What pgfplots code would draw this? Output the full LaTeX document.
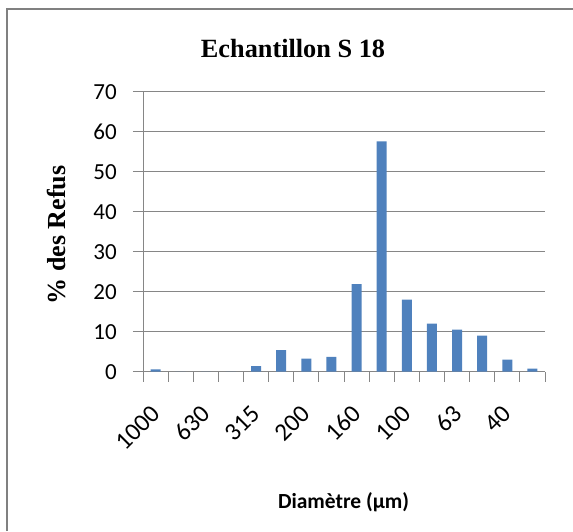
\documentclass[border=0pt]{standalone}
\usepackage{fontspec}
\setmainfont{Liberation Serif}
\newfontfamily\carlito{Carlito}
\usepackage{pgfplots}
\pgfplotsset{compat=1.18}
\definecolor{barblue}{RGB}{79,129,189}
\definecolor{gridgray}{RGB}{134,134,134}
\definecolor{framegray}{RGB}{128,128,128}
\begin{document}
\begin{tikzpicture}[x=1pt,y=1pt]
\useasboundingbox (0,0) rectangle (573,531);
\draw[framegray, line width=2pt] (7,0) -- (7,522) -- (573,522);
\begin{axis}[
  at={(143pt,159.3pt)}, anchor=south west,
  scale only axis, width=402pt, height=280pt,
  xmin=0.5, xmax=16.5, ymin=0, ymax=70,
  axis x line=bottom, axis y line=left,
  axis line style={-, gridgray, line width=1pt},
  ytick={0,10,...,70},
  ymajorgrids, grid style={gridgray, line width=1pt},
  tick align=outside, major tick length=10pt,
  tick style={gridgray, line width=1pt},
  xtick={0.5,1.5,...,16.5}, xticklabels={},
  extra x ticks={1,3,5,7,9,11,13,15},
  extra x tick labels={1000,630,315,200,160,100,63,40},
  extra x tick style={tick style={draw=none},
    xticklabel style={xshift=-6pt, yshift=-22pt, rotate=45, anchor=north east, inner sep=0pt}},
  xticklabel style={font=\carlito\fontsize{25}{25}\selectfont},
  yticklabel style={font=\carlito\fontsize{23}{23}\selectfont, anchor=east, inner sep=0pt, xshift=-16pt},
  /pgf/number format/assume math mode=true,
  ybar, bar width=10pt,
]
\addplot[fill=barblue, draw=none] coordinates {
  (1,0.6) (2,0) (3,0) (4,0) (5,1.4) (6,5.4) (7,3.25) (8,3.7)
  (9,21.9) (10,57.6) (11,18.0) (12,12.0) (13,10.5) (14,9.0) (15,3.0) (16,0.75)};
\end{axis}
\node[font=\bfseries\fontsize{26.3}{30}\selectfont, anchor=base] at (293,473) {Echantillon S 18};
\node[font=\bfseries\fontsize{26}{30}\selectfont, anchor=base, rotate=90] at (65,296.2) {\% des Refus};
\node[font=\carlito\bfseries\fontsize{21.5}{25}\selectfont, anchor=base] at (343.6,22.5) {Diamètre (µm)};
\end{tikzpicture}
\end{document}
